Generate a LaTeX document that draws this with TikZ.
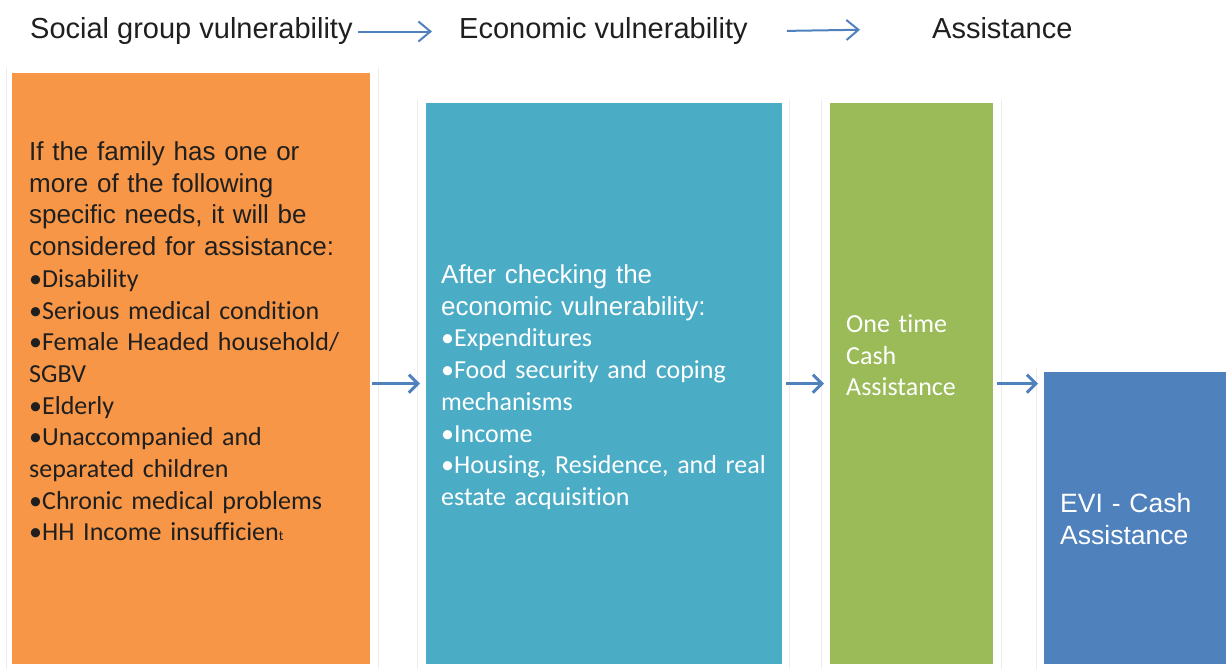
\documentclass[tikz,border=0pt]{standalone}
\usepackage{fontspec}
\setmainfont{Liberation Sans}
\newfontfamily\calibri[Ligatures=NoCommon]{Carlito}
\usetikzlibrary{arrows.meta}

\definecolor{orangebox}{RGB}{247,150,70}
\definecolor{tealbox}{RGB}{75,172,198}
\definecolor{greenbox}{RGB}{155,187,89}
\definecolor{bluebox}{RGB}{79,129,189}
\definecolor{arrowblue}{RGB}{79,129,189}

\begin{document}
\begin{tikzpicture}[x=1pt, y=-1pt,
        header/.style={font=\fontsize{29}{33}\selectfont, text=black!88, inner sep=0pt, anchor=base west},
        stage/.style={inner sep=0pt, anchor=north west},
        boxtext/.style={anchor=north west, inner sep=0pt, align=left, font=\fontsize{26}{31.7}\selectfont},
        frame/.style={draw=gray!15, line width=0.8pt},
        link/.style={-{Straight Barb[length=12pt, width=20pt]}, arrowblue, line width=2pt},
        flow/.style={-{Straight Barb[length=9pt, width=18pt]}, arrowblue, line width=3pt}
    ]
        \useasboundingbox (0,0) rectangle (1232,669);

        % Header row
        \node[header] (social_label) at (30,39) {Social group vulnerability};
        \node[header] (econ_label) at (459,39) {Economic vulnerability};
        \node[header] (assist_label) at (932,39) {Assistance};
        \draw[link, shorten <=5pt, shorten >=27pt] (social_label.east) -- (econ_label.west);
        \draw[link, shorten <=39pt, shorten >=72pt] (econ_label.east) -- (assist_label.west);

        % Faint column frames
        \draw[frame] (6,68) -- (6,669);
        \draw[frame] (378,68) -- (378,669);
        \draw[frame] (417,100) -- (417,669);
        \draw[frame] (789,100) -- (789,669);
        \draw[frame] (821,100) -- (821,669);
        \draw[frame] (1001,100) -- (1001,669);
        \draw[frame] (1036,368) -- (1036,669);

        % Boxes
        \node[stage, fill=orangebox, minimum width=358pt, minimum height=591pt] (social_box) at (12,73) {};
        \node[stage, fill=tealbox, minimum width=356pt, minimum height=561pt] (econ_box) at (426,103) {};
        \node[stage, fill=greenbox, minimum width=163pt, minimum height=561pt] (once_box) at (830,103) {};
        \node[stage, fill=bluebox, minimum width=182pt, minimum height=292pt] (evi_box) at (1044,372) {};

        % Box texts
        \node[boxtext, text=black!88, text width=340pt] (social_text) at (29,141.5) {%
            If the family has one or\\
            more of the following\\
            specific needs, it will be\\
            considered for assistance:\\
            {\calibri \textbullet Disability}\\
            {\calibri \textbullet Serious medical condition}\\
            {\calibri \textbullet Female Headed household/}\\
            {\calibri SGBV}\\
            {\calibri \textbullet Elderly}\\
            {\calibri \textbullet Unaccompanied and}\\
            {\calibri separated children}\\
            {\calibri \textbullet Chronic medical problems}\\
            {\calibri \textbullet HH Income insufficien{\fontsize{14}{14}\selectfont t}}};
        \node[boxtext, text=white, text width=340pt] (econ_text) at (441,264.5) {%
            After checking the\\
            economic vulnerability:\\
            {\calibri \textbullet Expenditures}\\
            {\calibri \textbullet Food security and coping}\\
            {\calibri mechanisms}\\
            {\calibri \textbullet Income}\\
            {\calibri \textbullet Housing, Residence, and real}\\
            {\calibri estate acquisition}};
        \node[boxtext, text=white, text width=145pt] (once_text) at (846,314.5) {%
            {\calibri One time}\\
            {\calibri Cash}\\
            {\calibri Assistance}};
        \node[boxtext, text=white, text width=170pt, font=\fontsize{26.5}{32}\selectfont] (evi_text) at (1060,493.5) {%
            EVI - Cash\\
            Assistance};

        % Flow between boxes
        \draw[flow, shorten <=2pt, shorten >=6pt] (social_box.east |- econ_box.west) -- (econ_box.west);
        \draw[flow, shorten <=4pt, shorten >=6pt] (econ_box.east) -- (once_box.west);
        \draw[flow, shorten <=4pt, shorten >=6pt] (once_box.east) -- (once_box.east -| evi_box.west);
    \end{tikzpicture}
\end{document}
